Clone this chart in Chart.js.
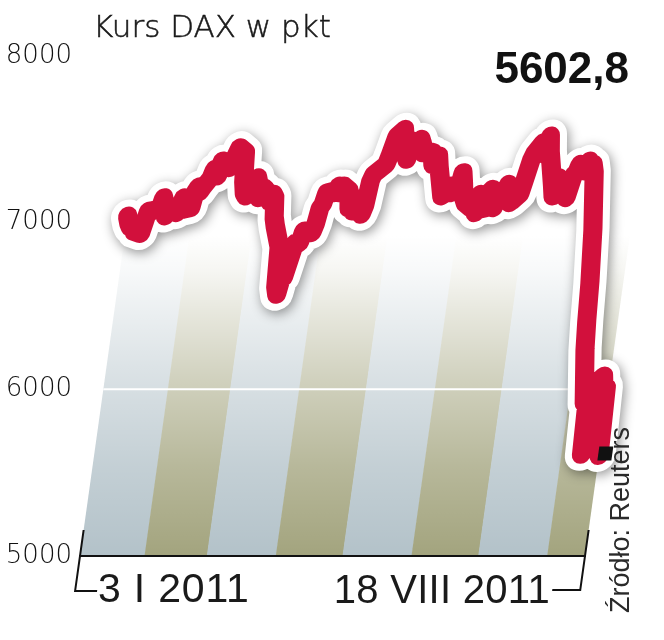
<!DOCTYPE html>
<html><head><meta charset="utf-8">
<script src="https://cdn.jsdelivr.net/npm/chart.js@4.4.1/dist/chart.umd.min.js"></script>
<style>
html,body{margin:0;padding:0;background:#fff;}
#wrap{position:relative;width:664px;height:640px;overflow:hidden;}
canvas{position:absolute;left:0;top:0;}
.t{position:absolute;white-space:nowrap;line-height:1;color:#1a1a1a;}
#title{left:93px;top:11px;font-family:'DejaVu Sans';font-weight:200;font-size:31px;-webkit-text-stroke:0.5px #1a1a1a;}
#last{right:35px;top:46px;font-family:'Liberation Sans';font-weight:bold;font-size:44px;color:#111;}
#d1{left:98px;top:568px;font-family:'Liberation Sans';font-size:41px;letter-spacing:0.8px;}
#d2{right:114px;top:569px;font-family:'Liberation Sans';font-size:40px;letter-spacing:0.3px;}
#src{left:607px;top:613px;transform-origin:0 0;transform:rotate(-90deg);font-family:'Liberation Sans';font-size:27px;color:#2a2a2a;}
</style></head>
<body><div id="wrap"><canvas id="c" width="664" height="640"></canvas>
<div class="t" id="title">Kurs DAX w pkt</div>
<div class="t" id="last"></div>
<div class="t" id="d1">3 I 2011</div>
<div class="t" id="d2">18 VIII 2011</div>
<div class="t" id="src">Źródło: Reuters</div>
</div>
<script>
// trading days (2011) and DAX closes
const dates = [
 '2011-01-03','2011-01-04','2011-01-05','2011-01-06','2011-01-07','2011-01-10','2011-01-11','2011-01-12','2011-01-13','2011-01-14','2011-01-17','2011-01-18','2011-01-19','2011-01-20','2011-01-21','2011-01-24','2011-01-25','2011-01-26','2011-01-27','2011-01-28','2011-01-31',
 '2011-02-01','2011-02-02','2011-02-03','2011-02-04','2011-02-07','2011-02-08','2011-02-09','2011-02-10','2011-02-11','2011-02-14','2011-02-15','2011-02-16','2011-02-17','2011-02-18','2011-02-21','2011-02-22','2011-02-23','2011-02-24','2011-02-25','2011-02-28',
 '2011-03-01','2011-03-02','2011-03-03','2011-03-04','2011-03-07','2011-03-08','2011-03-09','2011-03-10','2011-03-11','2011-03-14','2011-03-15','2011-03-16','2011-03-17','2011-03-18','2011-03-21','2011-03-22','2011-03-23','2011-03-24','2011-03-25','2011-03-28','2011-03-29','2011-03-30','2011-03-31',
 '2011-04-01','2011-04-04','2011-04-05','2011-04-06','2011-04-07','2011-04-08','2011-04-11','2011-04-12','2011-04-13','2011-04-14','2011-04-15','2011-04-18','2011-04-19','2011-04-20','2011-04-21','2011-04-26','2011-04-27','2011-04-28','2011-04-29',
 '2011-05-02','2011-05-03','2011-05-04','2011-05-05','2011-05-06','2011-05-09','2011-05-10','2011-05-11','2011-05-12','2011-05-13','2011-05-16','2011-05-17','2011-05-18','2011-05-19','2011-05-20','2011-05-23','2011-05-24','2011-05-25','2011-05-26','2011-05-27','2011-05-30','2011-05-31',
 '2011-06-01','2011-06-02','2011-06-03','2011-06-06','2011-06-07','2011-06-08','2011-06-09','2011-06-10','2011-06-13','2011-06-14','2011-06-15','2011-06-16','2011-06-17','2011-06-20','2011-06-21','2011-06-22','2011-06-23','2011-06-24','2011-06-27','2011-06-28','2011-06-29','2011-06-30',
 '2011-07-01','2011-07-04','2011-07-05','2011-07-06','2011-07-07','2011-07-08','2011-07-11','2011-07-12','2011-07-13','2011-07-14','2011-07-15','2011-07-18','2011-07-19','2011-07-20','2011-07-21','2011-07-22','2011-07-25','2011-07-26','2011-07-27','2011-07-28','2011-07-29',
 '2011-08-01','2011-08-02','2011-08-03','2011-08-04','2011-08-05','2011-08-08','2011-08-09','2011-08-10','2011-08-11','2011-08-12','2011-08-15','2011-08-16','2011-08-17','2011-08-18'
];
const closes = [
 7040,7000,6975,6985,6948,6935,7000,7070,7060,7075,7085,7150,7110,7040,7070,7090,7060,7110,7150,7080,7090,
 7190,7215,7185,7210,7270,7320,7300,7280,7370,7345,7330,7380,7410,7450,7420,7250,7180,7160,7200,7270,
 7230,7150,7210,7200,7130,7170,7150,7030,6980,6860,6620,6570,6660,6670,6880,6870,6880,6950,6950,6940,6990,7090,7110,
 7180,7190,7180,7220,7180,7220,7190,7090,7150,7070,7100,7050,7100,7250,7290,7350,7400,7460,7520,
 7560,7490,7430,7380,7490,7450,7500,7470,7420,7430,7420,7350,7380,7400,7330,7160,7170,7190,7220,7180,7200,7300,
 7230,7150,7120,7090,7110,7060,7170,7080,7090,7200,7130,7090,7170,7140,7230,7210,7120,7130,7170,7240,7310,7380,
 7420,7480,7470,7410,7520,7420,7230,7160,7270,7230,7220,7150,7220,7290,7300,7350,7310,7370,7330,7350,7300,
 6960,6800,6640,6410,6240,5920,5990,5610,5800,6040,6080,6000,6010,5602.8
];
const monthStarts = ['2011-01-03','2011-02-01','2011-03-01','2011-04-01','2011-05-01','2011-06-01','2011-07-01','2011-08-01'];
const rangeEnd = '2011-08-18';
const yTicks = [5000, 6000, 7000, 8000];
const gridValues = [6000];

const day0 = Date.parse(dates[0]);
const dayOf = s => Math.round((Date.parse(s) - day0) / 86400000);
const points = dates.map((d, i) => ({x: dayOf(d), y: closes[i]}));
document.getElementById('last').textContent = closes[closes.length - 1].toFixed(1).replace('.', ',');

const K = 0.14; // oblique slant of the plot
function skew(chart) { chart.ctx.transform(1, 0, -K, 1, K * chart.chartArea.bottom, 0); }

const obliquePlugin = {
  id: 'oblique',
  beforeDraw(chart) {
    const {ctx, chartArea: a, scales: {x, y}} = chart;
    ctx.save(); skew(chart);
    const bounds = monthStarts.map(dayOf).concat([dayOf(rangeEnd)]);
    for (let i = 0; i < bounds.length - 1; i++) {
      const x0 = x.getPixelForValue(bounds[i]), x1 = x.getPixelForValue(bounds[i + 1]);
      ctx.fillStyle = i % 2 === 0 ? '#b3c2c9' : '#a3a47e';
      ctx.fillRect(x0, a.top, x1 - x0 + (i < bounds.length - 2 ? 0.5 : 0), a.bottom - a.top);
    }
    const g = ctx.createLinearGradient(0, a.bottom, 0, a.top);
    g.addColorStop(0, 'rgba(255,255,255,0)');
    g.addColorStop(0.178, 'rgba(255,255,255,0.22)');
    g.addColorStop(0.356, 'rgba(255,255,255,0.5)');
    g.addColorStop(0.498, 'rgba(255,255,255,0.76)');
    g.addColorStop(0.57, 'rgba(255,255,255,0.9)');
    g.addColorStop(0.64, 'rgba(255,255,255,1)');
    g.addColorStop(1, 'rgba(255,255,255,1)');
    ctx.fillStyle = g;
    ctx.fillRect(a.left - 1, a.top, a.right - a.left + 2, a.bottom - a.top);
    ctx.strokeStyle = '#ffffff'; ctx.lineWidth = 2;
    gridValues.forEach(v => {
      const py = y.getPixelForValue(v);
      ctx.beginPath(); ctx.moveTo(a.left, py); ctx.lineTo(a.right, py); ctx.stroke();
    });
    ctx.restore();
  },
  beforeDatasetsDraw(chart) {
    const ctx = chart.ctx;
    ctx.save(); skew(chart);
    // white halo with soft shadow, following the line's own elements
    const meta = chart.getDatasetMeta(0);
    ctx.save();
    ctx.shadowColor = 'rgba(0,0,0,0.42)'; ctx.shadowBlur = 12; ctx.shadowOffsetX = 2; ctx.shadowOffsetY = 3;
    ctx.strokeStyle = '#ffffff'; ctx.lineWidth = 33; ctx.lineJoin = 'round'; ctx.lineCap = 'round';
    ctx.beginPath();
    meta.data.forEach((pt, i) => i ? ctx.lineTo(pt.x, pt.y) : ctx.moveTo(pt.x, pt.y));
    ctx.stroke();
    ctx.restore();
  },
  afterDatasetsDraw(chart) {
    const ctx = chart.ctx;
    const meta = chart.getDatasetMeta(0);
    const p = meta.data[meta.data.length - 1];
    ctx.fillStyle = '#111';
    ctx.fillRect(p.x - 1, p.y - 9, 14, 14);
    ctx.restore();
  },
  afterDraw(chart) {
    const {ctx, chartArea: a} = chart;
    ctx.save(); skew(chart);
    ctx.strokeStyle = '#111'; ctx.lineWidth = 2;
    ctx.beginPath();
    ctx.moveTo(a.left + 22, a.bottom + 35); ctx.lineTo(a.left, a.bottom + 35); ctx.lineTo(a.left, a.bottom - 26);
    ctx.moveTo(a.right - 28, a.bottom + 34); ctx.lineTo(a.right, a.bottom + 34); ctx.lineTo(a.right, a.bottom - 26);
    ctx.stroke();
    ctx.restore();
  }
};

new Chart(document.getElementById('c'), {
  type: 'line',
  data: {datasets: [
    {label: 'DAX', data: points, borderColor: '#d2103c', borderWidth: 19, pointRadius: 0,
     borderCapStyle: 'round', borderJoinStyle: 'round', tension: 0, clip: false, fill: false}
  ]},
  options: {
    responsive: false, animation: false, devicePixelRatio: 1, events: [],
    layout: {padding: {top: 56, right: 79, left: 0, bottom: 0}},
    plugins: {legend: {display: false}, tooltip: {enabled: false}, title: {display: false}},
    scales: {
      x: {type: 'linear', min: 0, max: dayOf(rangeEnd),
        grid: {display: false, drawTicks: false}, ticks: {display: false},
        border: {display: true, color: '#111', width: 2},
        afterFit(s) { s.height = 84; }},
      y: {min: 5000, max: 8000,
        afterBuildTicks(s) { s.ticks = yTicks.map(v => ({value: v})); },
        ticks: {padding: 8, color: '#111', font: {family: "'DejaVu Sans'", size: 26, weight: '200'}, callback: v => String(v)},
        grid: {display: false, drawTicks: false}, border: {display: false},
        afterFit(s) { s.width = 80; }}
    }
  },
  plugins: [obliquePlugin]
});
</script>
</body></html>
